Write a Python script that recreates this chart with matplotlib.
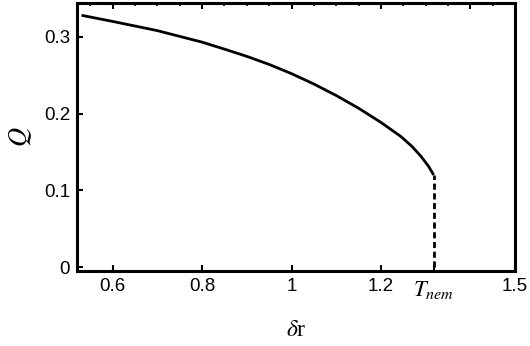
import matplotlib
matplotlib.use("Agg")
import matplotlib.pyplot as plt
import numpy as np

# order parameter Q vs. delta r
dr = [0.53, 0.6, 0.7, 0.8, 0.855, 0.9, 0.95, 1.0, 1.05, 1.1, 1.15, 1.2,
      1.245, 1.27, 1.29, 1.307, 1.318]
Q = [0.328, 0.320, 0.308, 0.293, 0.283, 0.2745, 0.264, 0.252, 0.2385, 0.2235,
     0.207, 0.1885, 0.170, 0.157, 0.144, 0.131, 0.120]
T_nem = 1.318

x_ticks = [0.6, 0.8, 1.0, 1.2, T_nem, 1.5]
x_labels = ["0.6", "0.8", "1", "1.2", r"$T_{nem}$", "1.5"]
y_ticks = [0, 0.1, 0.2, 0.3]
y_labels = ["0", "0.1", "0.2", "0.3"]

plt.rcParams["mathtext.fontset"] = "stix"

fig = plt.figure(figsize=(5.3, 3.46), dpi=100)
ax = fig.add_axes([0.1453, 0.2168, 0.8264, 0.7745])

ax.plot(dr, Q, color="black", lw=2.0, solid_capstyle="butt", solid_joinstyle="round")
ax.plot([T_nem, T_nem], [0, Q[-1]], color="black", lw=2.0, ls=(0, (2.2, 1.3)))

ax.set_xlim(0.52, 1.5)
ax.set_ylim(-0.005, 0.344)

ax.set_xticks(x_ticks)
ax.set_xticklabels(x_labels, fontsize=13.5, family="Liberation Sans")
ax.set_yticks(y_ticks)
ax.set_yticklabels(y_labels, fontsize=13.5, family="Liberation Sans")
for lab in ax.get_xticklabels():
    if "T" in lab.get_text():
        lab.set_fontsize(16.5)
ax.tick_params(axis="both", direction="in", length=4, width=1.5, pad=5)

# ticks along the top frame edge
top = ax.secondary_xaxis("top")
top.set_xticks([0.6, 0.8, 1.0, 1.2, 1.4])
top.set_xticks(np.arange(0.55, 1.5, 0.05), minor=True)
top.tick_params(which="major", direction="in", length=4, width=1.5, labeltop=False)
top.tick_params(which="minor", direction="in", length=2.5, width=1.2)
top.set_xticklabels([])
top.spines["top"].set_visible(False)

for sp in ax.spines.values():
    sp.set_linewidth(2.2)

ax.set_xlabel(r"$\delta$r", fontsize=17, family="Liberation Serif", labelpad=14)
ax.set_ylabel(r"$Q$", fontsize=19, labelpad=7)

fig.savefig("out.png", dpi=100)
